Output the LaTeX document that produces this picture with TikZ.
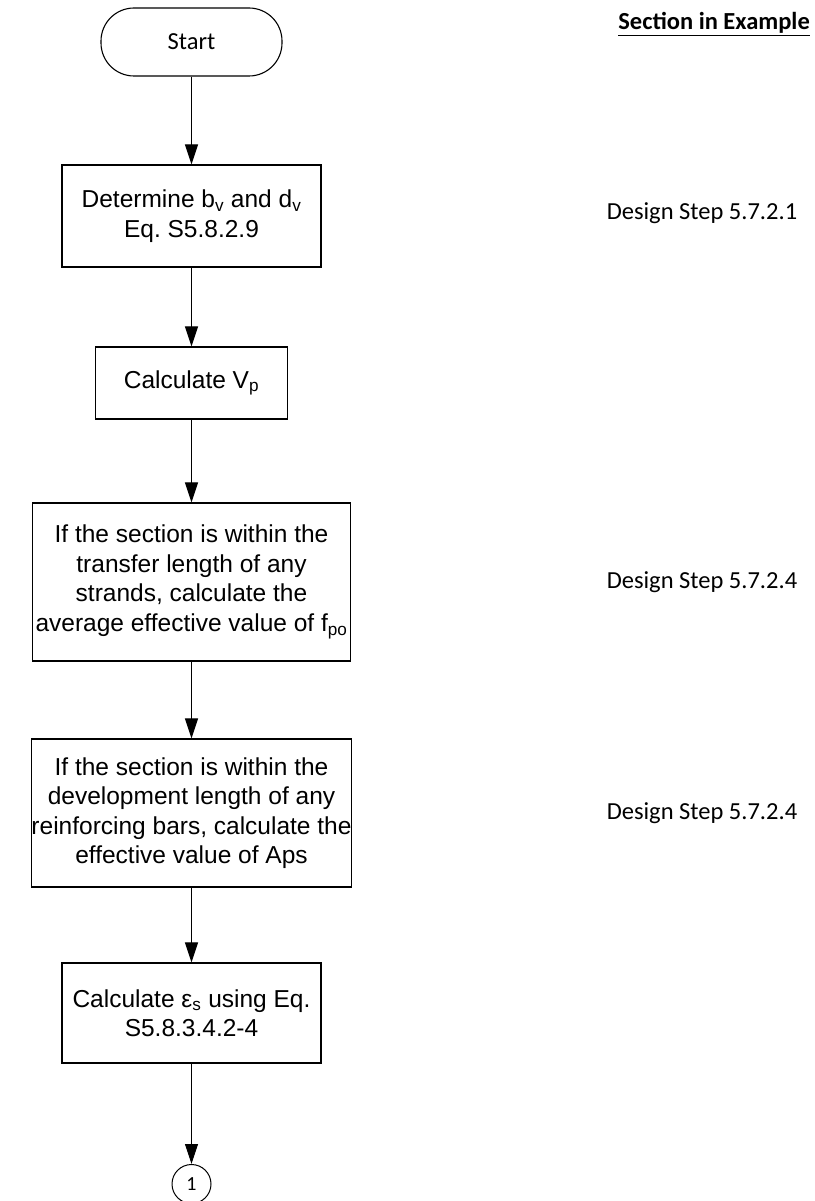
\documentclass[tikz,border=0pt]{standalone}
\usepackage{fontspec}
\setmainfont{Liberation Sans}
\newfontfamily\calibri{Carlito}
\usepackage{tikz}
\usetikzlibrary{arrows.meta,positioning}
\frenchspacing

\begin{document}
\begin{tikzpicture}[
  x=1pt, y=-1pt,
  font=\fontsize{24.5}{29.5}\selectfont,
  term/.style ={draw, line width=1.1pt, rounded corners=33pt, minimum width=181pt,
                minimum height=68pt, inner sep=0pt, font=\calibri\fontsize{24.5}{29.5}\selectfont},
  proc/.style ={draw, line width=1.2pt, align=center, inner sep=0pt},
  conn/.style ={draw, circle, line width=1pt, minimum size=39pt, inner sep=0pt,
                font=\calibri\fontsize{20}{24}\selectfont},
  flow/.style ={-{Triangle[length=20pt,width=13pt]}, line width=1pt},
  ref/.style  ={font=\calibri\fontsize{24.5}{29.5}\selectfont, inner sep=0pt},
]
\useasboundingbox (0,0) rectangle (814,1201);

% ================= FLOW CHART =================
\node[term] (start) at (191.5,42) {Start};
\node[proc, minimum width=259pt, minimum height=102pt] (bvdv) at (191.5,216)
  {Determine b\textsubscript{v} and d\textsubscript{v}\\Eq. S5.8.2.9};
\node[proc, minimum width=192pt, minimum height=72pt] (vp) at (191.5,383)
  {Calculate V\textsubscript{p}};
\node[proc, minimum width=318pt, minimum height=158pt] (fpo) at (191.5,582)
  {If the section is within the\\transfer length of any\\strands, calculate the\\average effective value of f\textsubscript{po}};
\node[proc, minimum width=318pt, minimum height=148pt] (aps) at (191.5,813)
  {If the section is within the\\development length of any\\reinforcing bars, calculate the\\effective value of Aps};
\node[proc, minimum width=259pt, minimum height=100pt] (eps) at (191.5,1013)
  {Calculate ε\textsubscript{s} using Eq.\\S5.8.3.4.2-4};
\node[conn] (c1) at (191.5,1184) {1};

\draw[flow] (start) -- (bvdv);
\draw[flow] (bvdv) -- (vp);
\draw[flow] (vp) -- (fpo);
\draw[flow] (fpo) -- (aps);
\draw[flow] (aps) -- (eps);
\draw[flow] (eps) -- (c1);

% ================= SECTION REFERENCES =================
\node[ref, anchor=base east] (hdr) at (810,30) {\bfseries\underline{Section in Example}};
\node[ref] (ds1) at (702,213) {Design Step 5.7.2.1};
\node[ref] (ds2) at (702,582) {Design Step 5.7.2.4};
\node[ref] (ds3) at (702,813) {Design Step 5.7.2.4};

\end{tikzpicture}
\end{document}
